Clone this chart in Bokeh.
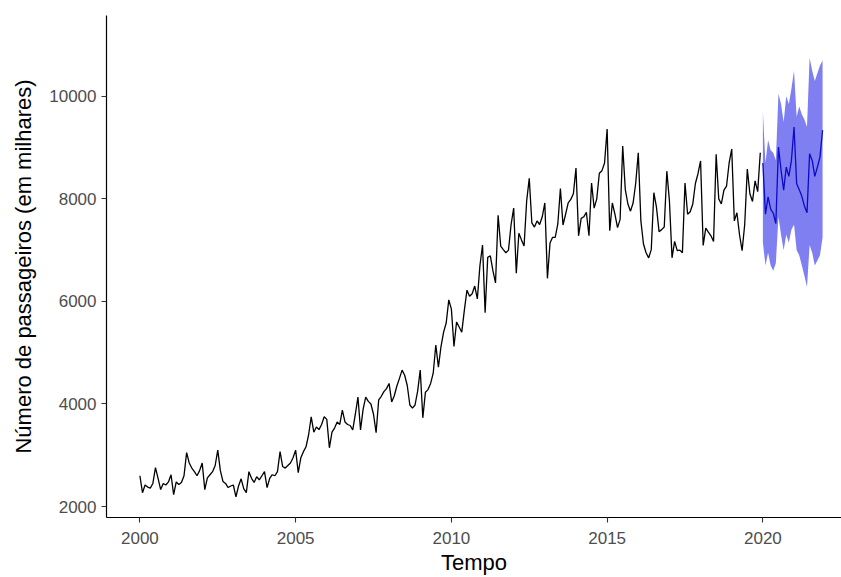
from bokeh.plotting import figure
from bokeh.models import Range1d, FixedTicker, ColumnDataSource
from bokeh.embed import file_html
from bokeh.resources import INLINE

# Monthly passengers (thousands), January..December of each year
years = list(range(2000, 2020))
passengers = {
    2000: [2600, 2270, 2420, 2380, 2360, 2450, 2757, 2550, 2330, 2450, 2420, 2480],
    2001: [2620, 2233, 2480, 2430, 2470, 2600, 3050, 2850, 2750, 2680, 2600, 2700],
    2002: [2850, 2330, 2560, 2620, 2680, 2800, 3100, 2700, 2490, 2450, 2370, 2400],
    2003: [2420, 2190, 2400, 2540, 2350, 2270, 2680, 2550, 2470, 2580, 2520, 2600],
    2004: [2680, 2370, 2550, 2620, 2600, 2680, 3070, 2780, 2750, 2800, 2850, 2950],
    2005: [3100, 2660, 2950, 3070, 3165, 3400, 3750, 3450, 3550, 3500, 3600, 3750],
    2006: [3700, 3145, 3450, 3530, 3650, 3600, 3880, 3650, 3600, 3580, 3495, 3800],
    2007: [4135, 3495, 3900, 4135, 4050, 4000, 3800, 3440, 4080, 4150, 4240, 4300],
    2008: [4400, 4040, 4160, 4350, 4500, 4660, 4560, 4360, 3980, 3920, 3980, 4250],
    2009: [4660, 3730, 4230, 4280, 4400, 4600, 5150, 4720, 5120, 5400, 5580, 6030],
    2010: [5850, 5120, 5600, 5500, 5400, 5830, 6220, 6100, 6150, 6300, 6050, 6700],
    2011: [7100, 5780, 6860, 6890, 6600, 6360, 7680, 7080, 7010, 6950, 7000, 7500],
    2012: [7820, 6550, 7330, 7200, 7080, 7960, 8400, 7530, 7450, 7570, 7500, 7650],
    2013: [7920, 6450, 7140, 7250, 7250, 7510, 8200, 7490, 7700, 7920, 7990, 8100],
    2014: [8600, 7280, 7620, 7650, 7740, 7280, 8310, 7820, 8000, 8500, 8550, 8700],
    2015: [9360, 7380, 7920, 7700, 7440, 7600, 9030, 8180, 7900, 7760, 7920, 8300],
    2016: [8900, 7570, 7120, 6950, 6850, 7010, 8120, 7840, 7360, 7400, 7450, 8540],
    2017: [7960, 6850, 7170, 6990, 7000, 6950, 8310, 7700, 7750, 7900, 8300, 8490],
    2018: [8740, 7090, 7430, 7350, 7280, 7170, 8870, 8000, 7900, 8170, 8250, 8700],
    2019: [8970, 7570, 7730, 7300, 6990, 7500, 8580, 8100, 7950, 8350, 8140, 8900],
}

# Forecast for 2020-2021 with the interval bounds
fc_years = [2020, 2021]
forecast = {
    2020: [8700, 7700, 8040, 7800, 7720, 7520, 9010, 8560, 8170, 8620, 8440, 8750],
    2021: [9400, 8300, 8180, 8050, 7860, 7730, 8880, 8750, 8440, 8620, 8820, 9340],
}
upper = {
    2020: [9700, 8700, 9150, 8950, 8900, 8750, 10050, 9850, 9500, 10000, 9850, 10150],
    2021: [10500, 9600, 9800, 9650, 9550, 9400, 10750, 10500, 10300, 10450, 10600, 10700],
}
lower = {
    2020: [7150, 6700, 6950, 6700, 6600, 6750, 7650, 7300, 7000, 7300, 7150, 7400],
    2021: [7500, 7000, 6900, 6700, 6500, 6280, 7100, 6950, 6700, 6800, 6900, 7250],
}

x_ticks = [2000, 2005, 2010, 2015, 2020]
y_ticks = [2000, 4000, 6000, 8000, 10000]


def monthly(years_list, table):
    t, v = [], []
    for y in years_list:
        for m, val in enumerate(table[y]):
            t.append(y + m / 12)
            v.append(val)
    return t, v


t_hist, v_hist = monthly(years, passengers)
t_fc, v_fc = monthly(fc_years, forecast)
_, v_hi = monthly(fc_years, upper)
_, v_lo = monthly(fc_years, lower)

hist = ColumnDataSource(dict(t=t_hist, v=v_hist))
fc = ColumnDataSource(dict(t=t_fc, v=v_fc, hi=v_hi, lo=v_lo))

FONT = "Liberation Sans"

p = figure(
    width=841, height=577,
    output_backend="svg", toolbar_location=None,
    x_range=Range1d(1998.928, 2022.524),
    y_range=Range1d(1786, 11576),
    min_border_left=106, min_border_right=0,
    min_border_top=15, min_border_bottom=59,
)
p.background_fill_color = "white"
p.border_fill_color = "white"
p.outline_line_color = None
p.grid.visible = False

p.line("t", "v", source=hist, line_color="black", line_width=1.3)
p.varea(x="t", y1="lo", y2="hi", source=fc, fill_color="#7f7ff2", fill_alpha=1.0)
p.line("t", "v", source=fc, line_color="#0a0ac8", line_width=1.3)

p.xaxis.ticker = FixedTicker(ticks=x_ticks)
p.yaxis.ticker = FixedTicker(ticks=y_ticks)
p.xaxis.axis_label = "Tempo"
p.yaxis.axis_label = "Número de passageiros (em milhares)"

for ax in (p.xaxis, p.yaxis):
    ax.axis_line_color = "black"
    ax.axis_line_width = 1.2
    ax.major_tick_line_color = "#333333"
    ax.major_tick_line_width = 1.1
    ax.major_tick_out = 5
    ax.major_tick_in = 0
    ax.minor_tick_line_color = None
    ax.major_label_text_font = FONT
    ax.major_label_text_font_size = "17px"
    ax.major_label_text_color = "#4D4D4D"
    ax.axis_label_text_font = FONT
    ax.axis_label_text_font_size = "22px"
    ax.axis_label_text_font_style = "normal"
    ax.axis_label_text_color = "black"

p.xaxis.major_label_standoff = 9
p.xaxis.axis_label_standoff = 3
p.yaxis.major_label_standoff = 5
p.yaxis.axis_label_standoff = 10

open("out.html", "w").write(file_html(p, INLINE))
